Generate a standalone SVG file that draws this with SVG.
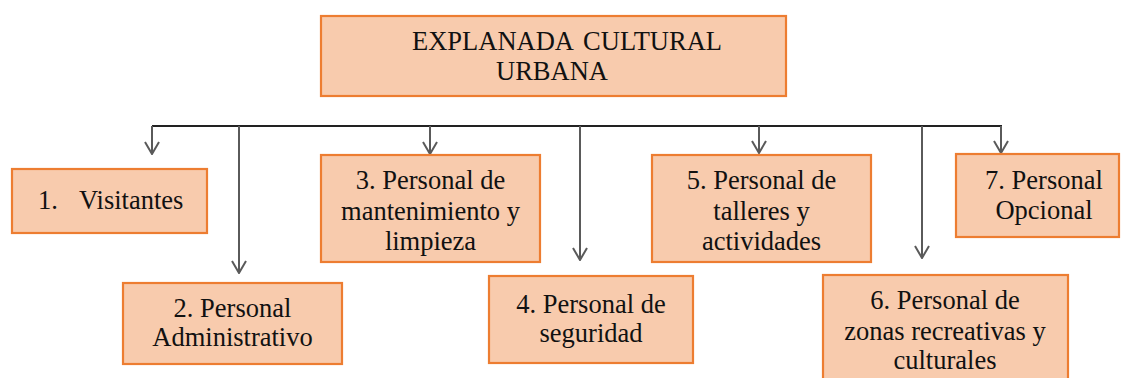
<svg xmlns="http://www.w3.org/2000/svg" width="1121" height="378" viewBox="0 0 1121 378">
<style>
.box{fill:#F8CBAD;stroke:#ED7D31;stroke-width:2.2}
.t{font-family:"Liberation Serif","Times New Roman",serif;font-size:26.5px;fill:#111;text-anchor:middle}
.bus{fill:none;stroke:#222;stroke-width:2}
.drop{fill:none;stroke:#5a5a5a;stroke-width:2;marker-end:url(#arr)}
</style>
<defs>
<marker id="arr" viewBox="0 0 16 14" refX="8" refY="13" markerWidth="16" markerHeight="14" markerUnits="userSpaceOnUse" orient="0">
<path d="M1,1 L8,13 L15,1" fill="none" stroke="#5a5a5a" stroke-width="2"/>
</marker>
</defs>
<g id="connectors">
<path class="bus" d="M152,126 H1002"/>
<path class="drop" d="M152,126 V154"/>
<path class="drop" d="M239,126 V273"/>
<path class="drop" d="M430,126 V154"/>
<path class="drop" d="M580,126 V260"/>
<path class="drop" d="M759,126 V153"/>
<path class="drop" d="M922,126 V258"/>
<path class="drop" d="M1001,126 V153"/>
</g>
<g id="root">
<rect class="box" x="321" y="16" width="465" height="80"/>
<text class="t" x="412" y="50" style="text-anchor:start" word-spacing="4">EXPLANADA CULTURAL</text>
<text class="t" x="552" y="80">URBANA</text>
</g>
<g id="n1">
<rect class="box" x="12" y="169" width="195" height="64"/>
<text class="t" x="38" y="209" style="text-anchor:start">1.</text>
<text class="t" x="79" y="209" style="text-anchor:start">Visitantes</text>
</g>
<g id="n2">
<rect class="box" x="123" y="283" width="219" height="81"/>
<text class="t" x="232.5" y="317">2. Personal</text>
<text class="t" x="232.5" y="346">Administrativo</text>
</g>
<g id="n3">
<rect class="box" x="321" y="155" width="219" height="107"/>
<text class="t" x="430.5" y="189">3. Personal de</text>
<text class="t" x="430.5" y="220">mantenimiento y</text>
<text class="t" x="430.5" y="250">limpieza</text>
</g>
<g id="n4">
<rect class="box" x="489" y="276" width="204" height="87"/>
<text class="t" x="591" y="313">4. Personal de</text>
<text class="t" x="591" y="342">seguridad</text>
</g>
<g id="n5">
<rect class="box" x="652" y="155" width="219" height="107"/>
<text class="t" x="761.5" y="189">5. Personal de</text>
<text class="t" x="761.5" y="220">talleres y</text>
<text class="t" x="761.5" y="250">actividades</text>
</g>
<g id="n6">
<rect class="box" x="823" y="275" width="245" height="110"/>
<text class="t" x="945" y="309">6. Personal de</text>
<text class="t" x="945" y="340">zonas recreativas y</text>
<text class="t" x="945" y="369">culturales</text>
</g>
<g id="n7">
<rect class="box" x="956" y="154" width="163" height="83"/>
<text class="t" x="1044" y="189">7. Personal</text>
<text class="t" x="1044" y="219">Opcional</text>
</g>
</svg>
